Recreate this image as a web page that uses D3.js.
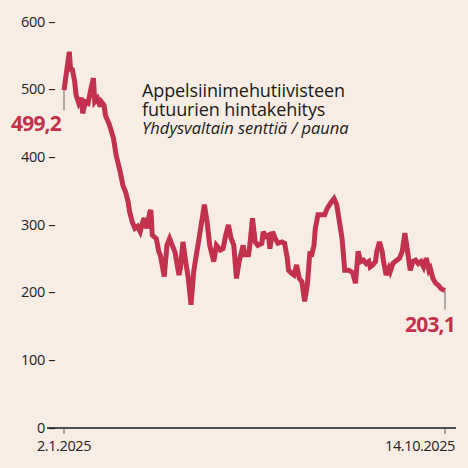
<!DOCTYPE html>
<html lang="fi">
<head>
<meta charset="UTF-8">
<title>Appelsiinimehutiivisteen futuurien hintakehitys</title>
<script src="https://d3js.org/d3.v7.min.js"></script>
<style>
  html, body { margin: 0; padding: 0; background: #f8ede5; }
  svg { display: block; font-family: "Open Sans", sans-serif; }
  .tick-label { font-size: 14.5px; fill: #222; letter-spacing: -0.4px; }
  .title { font-size: 18px; fill: #1a1a1a; letter-spacing: -0.1px; }
  .subtitle { font-size: 16.5px; font-style: italic; fill: #1a1a1a; letter-spacing: 0px; }
  .value-label { font-size: 21px; font-weight: 700; fill: #c2324e; letter-spacing: -0.8px; }
</style>
</head>
<body>
<div id="chart"></div>
<script>
// price, US cents per pound
const dates = [
  "2025-01-02","2025-01-06","2025-01-07","2025-01-08","2025-01-10","2025-01-11","2025-01-13","2025-01-15",
  "2025-01-16","2025-01-18","2025-01-20","2025-01-22","2025-01-24","2025-01-25","2025-01-27","2025-01-29",
  "2025-01-30","2025-02-01","2025-02-02","2025-02-05","2025-02-08","2025-02-10","2025-02-13","2025-02-15",
  "2025-02-17","2025-02-19","2025-02-20","2025-02-22","2025-02-24","2025-02-26","2025-02-28","2025-03-02",
  "2025-03-03","2025-03-05","2025-03-07","2025-03-08","2025-03-09","2025-03-12","2025-03-14","2025-03-15",
  "2025-03-18","2025-03-20","2025-03-22","2025-03-24","2025-03-26","2025-03-29","2025-03-30","2025-04-01",
  "2025-04-03","2025-04-05","2025-04-07","2025-04-09","2025-04-11","2025-04-13","2025-04-15","2025-04-17",
  "2025-04-19","2025-04-21","2025-04-24","2025-04-26","2025-04-29","2025-05-01","2025-05-03","2025-05-05",
  "2025-05-07","2025-05-09","2025-05-11","2025-05-13","2025-05-16","2025-05-17","2025-05-20","2025-05-21",
  "2025-05-23","2025-05-25","2025-05-27","2025-05-30","2025-05-31","2025-06-02","2025-06-04","2025-06-05",
  "2025-06-07","2025-06-09","2025-06-11","2025-06-14","2025-06-16","2025-06-18","2025-06-19","2025-06-21",
  "2025-06-23","2025-06-25","2025-06-27","2025-06-29","2025-07-01","2025-07-03","2025-07-05","2025-07-06",
  "2025-07-08","2025-07-09","2025-07-11","2025-07-14","2025-07-16","2025-07-18","2025-07-21","2025-07-23",
  "2025-07-25","2025-07-27","2025-07-29","2025-07-31","2025-08-03","2025-08-05","2025-08-06","2025-08-08",
  "2025-08-10","2025-08-12","2025-08-14","2025-08-16","2025-08-18","2025-08-19","2025-08-21","2025-08-23",
  "2025-08-24","2025-08-26","2025-08-28","2025-08-29","2025-08-31","2025-09-02","2025-09-03","2025-09-05",
  "2025-09-08","2025-09-10","2025-09-12","2025-09-14","2025-09-16","2025-09-18","2025-09-20","2025-09-22",
  "2025-09-24","2025-09-26","2025-09-28","2025-09-30","2025-10-02","2025-10-03","2025-10-05","2025-10-07",
  "2025-10-09","2025-10-11","2025-10-13","2025-10-14"
];
const prices = [
  499.2,556,527,532,512,492,480,488,
  465,482,480,500,517,482,487,475,
  482,477,462,448,428,403,379,359,
  349,334,320,305,295,298,290,305,
  310,295,318,322,285,280,260,256,
  224,270,280,270,260,226,236,275,
  246,221,182,231,256,280,305,330,
  305,270,246,270,263,265,285,300,
  280,270,221,246,270,256,256,270,
  310,275,270,273,290,283,285,265,
  290,280,273,275,273,251,233,229,
  226,241,221,216,187,211,261,253,
  270,295,315,315,315,325,334,339,
  330,305,280,233,233,231,229,214,
  261,246,248,243,246,238,241,246,
  261,275,261,246,226,236,231,243,
  248,251,261,288,261,233,246,248,
  243,246,238,251,233,236,221,214,
  211,206,204,203.1
];
const yTicks = [0, 100, 200, 300, 400, 500, 600];
const xTickLabels = ["2.1.2025", "14.10.2025"];
const titleLines = ["Appelsiinimehutiivisteen", "futuurien hintakehitys"];
const subtitle = "Yhdysvaltain senttiä / pauna";

const width = 468, height = 468;
const parse = d3.timeParse("%Y-%m-%d");
const data = dates.map((d, i) => ({ date: parse(d), value: prices[i] }));
const first = data[0], last = data[data.length - 1];
const fmt = v => d3.format(".1f")(v).replace(".", ",");

const x = d3.scaleTime()
    .domain([first.date, last.date])
    .range([64, 445]);

const y = d3.scaleLinear()
    .domain([0, 600])
    .range([428, 22]);

const svg = d3.select("#chart")
    .append("svg")
    .attr("width", width)
    .attr("height", height);

// y labels with the dash as part of the text
svg.append("g")
    .selectAll("text")
    .data(yTicks)
    .join("text")
    .attr("class", "tick-label")
    .attr("x", 55)
    .attr("y", d => y(d))
    .attr("dy", "0.33em")
    .attr("text-anchor", "end")
    .text(d => d + " \u2013");

// baseline
svg.append("line")
    .attr("x1", 47).attr("x2", 456)
    .attr("y1", y(0)).attr("y2", y(0))
    .attr("stroke", "#1a1a1a")
    .attr("stroke-width", 1.5);

// date ticks at both ends
const ends = [first.date, last.date];
svg.append("g")
    .selectAll("line")
    .data(ends)
    .join("line")
    .attr("x1", d => x(d)).attr("x2", d => x(d))
    .attr("y1", y(0)).attr("y2", y(0) + 6)
    .attr("stroke", "#555")
    .attr("stroke-width", 1);

svg.append("g")
    .selectAll("text")
    .data(ends)
    .join("text")
    .attr("class", "tick-label")
    .attr("x", (d, i) => i === 0 ? x(d) : 455)
    .attr("y", 451)
    .attr("text-anchor", (d, i) => i === 0 ? "middle" : "end")
    .text((d, i) => xTickLabels[i]);

// leader lines for first and last value
svg.append("line")
    .attr("x1", x(first.date)).attr("x2", x(first.date))
    .attr("y1", y(first.value)).attr("y2", y(first.value) + 20)
    .attr("stroke", "#666").attr("stroke-width", 1);
svg.append("line")
    .attr("x1", x(last.date)).attr("x2", x(last.date))
    .attr("y1", y(last.value)).attr("y2", y(last.value) + 19)
    .attr("stroke", "#666").attr("stroke-width", 1);

// price line
const line = d3.line()
    .x(d => x(d.date))
    .y(d => y(d.value));

svg.append("path")
    .datum(data)
    .attr("fill", "none")
    .attr("stroke", "#c2324e")
    .attr("stroke-width", 5)
    .attr("stroke-linejoin", "miter")
    .attr("stroke-miterlimit", 3)
    .attr("d", line);

// value labels
svg.append("text")
    .attr("class", "value-label")
    .attr("x", 11)
    .attr("y", y(first.value) + 41)
    .text(fmt(first.value));

svg.append("text")
    .attr("class", "value-label")
    .attr("x", 455)
    .attr("y", y(last.value) + 41)
    .attr("text-anchor", "end")
    .text(fmt(last.value));

// title block
const title = svg.append("g").attr("transform", "translate(142,0)");
title.selectAll("text.title")
    .data(titleLines)
    .join("text")
    .attr("class", "title")
    .attr("y", (d, i) => 97 + i * 18.5)
    .text(d => d);
title.append("text")
    .attr("class", "subtitle")
    .attr("y", 134)
    .text(subtitle);
</script>
</body>
</html>
